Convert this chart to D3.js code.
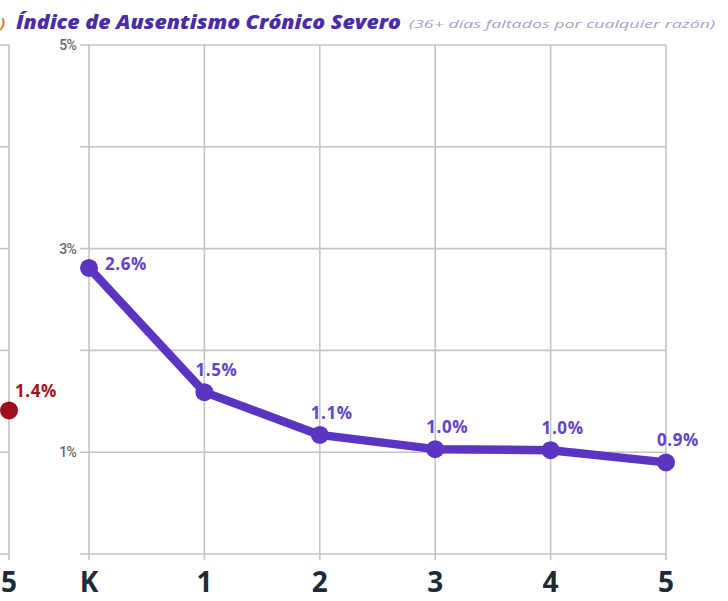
<!DOCTYPE html>
<html>
<head>
<meta charset="utf-8">
<script src="https://cdn.jsdelivr.net/npm/d3@7"></script>
<style>
  body { margin: 0; background: #fff; }
  svg { display: block; }
</style>
</head>
<body>
<div id="chart"></div>
<script>
// main panel: grades and plotted level (as drawn), plus the printed labels
var grades = ['K', '1', '2', '3', '4', '5'];
var values = [2.81, 1.59, 1.17, 1.03, 1.02, 0.9];
var valueLabels = ['2.6%', '1.5%', '1.1%', '1.0%', '1.0%', '0.9%'];

// partial panel cut off on the left
var leftGrades = ['5'];
var leftValues = [1.41];
var leftLabels = ['1.4%'];

var yTicks = [0, 1, 2, 3, 4, 5];
var yTickLabels = ['', '1%', '', '3%', '', '5%'];

var W = 728, H = 601;
var purple = '#5b35c2';

var svg = d3.select('#chart').append('svg')
  .attr('width', W)
  .attr('height', H);

var y = d3.scaleLinear().domain([0, 5]).range([554, 45]);
var x = d3.scalePoint().domain(grades).range([89, 666]);
var xLeft = d3.scalePoint().domain(leftGrades).range([9, 9]);

// title
svg.append('text')
  .attr('x', 0)
  .attr('y', 28)
  .attr('font-family', 'Open Sans, sans-serif')
  .attr('font-size', 15)
  .attr('font-style', 'italic')
  .attr('font-weight', 700)
  .attr('fill', '#e07a2a')
  .text(')');
svg.append('text')
  .attr('x', 16)
  .attr('y', 29)
  .attr('font-family', 'Open Sans, sans-serif')
  .attr('font-size', 19)
  .attr('font-weight', 800)
  .attr('font-style', 'italic')
  .attr('fill', '#4a2ca6')
  .attr('textLength', 385)
  .attr('lengthAdjust', 'spacingAndGlyphs')
  .text('Índice de Ausentismo Crónico Severo');
svg.append('text')
  .attr('x', 409)
  .attr('y', 28)
  .attr('font-family', 'Open Sans, sans-serif')
  .attr('font-size', 11)
  .attr('font-style', 'italic')
  .attr('fill', '#a79fc4')
  .attr('textLength', 306)
  .attr('lengthAdjust', 'spacingAndGlyphs')
  .text('(36+ días faltados por cualquier razón)');

// grid of the main panel
var grid = svg.append('g').attr('stroke', '#c4c4c4').attr('stroke-width', 1.6);
grid.selectAll('line.h')
  .data(yTicks)
  .enter().append('line')
    .attr('class', 'h')
    .attr('x1', 80)
    .attr('x2', x('5'))
    .attr('y1', d => y(d))
    .attr('y2', d => y(d));
grid.selectAll('line.v')
  .data(grades)
  .enter().append('line')
    .attr('class', 'v')
    .attr('x1', d => x(d))
    .attr('x2', d => x(d))
    .attr('y1', y(5))
    .attr('y2', y(0) + 6);

// grid of the cut-off panel
grid.selectAll('line.lh')
  .data(yTicks)
  .enter().append('line')
    .attr('class', 'lh')
    .attr('x1', 0)
    .attr('x2', xLeft('5'))
    .attr('y1', d => y(d))
    .attr('y2', d => y(d));
grid.selectAll('line.lv')
  .data(leftGrades)
  .enter().append('line')
    .attr('class', 'lv')
    .attr('x1', d => xLeft(d))
    .attr('x2', d => xLeft(d))
    .attr('y1', y(5))
    .attr('y2', y(0) + 6);

// y tick labels
svg.selectAll('text.ytick')
  .data(yTicks)
  .enter().append('text')
    .attr('class', 'ytick')
    .attr('x', 76)
    .attr('y', d => y(d) + 5)
    .attr('text-anchor', 'end')
    .attr('font-family', 'Roboto, sans-serif')
    .attr('font-size', 14)
    .attr('font-weight', 500)
    .attr('letter-spacing', -0.8)
    .attr('fill', '#6a6a6a')
    .text((d, i) => yTickLabels[i]);

// x labels
var xLabelStyle = function(sel) {
  sel.attr('y', 592)
    .attr('text-anchor', 'middle')
    .attr('font-family', 'Open Sans, sans-serif')
    .attr('font-size', 28)
    .attr('font-weight', 700)
    .attr('fill', '#1d2b38');
};
svg.selectAll('text.xlab')
  .data(grades)
  .enter().append('text')
    .attr('class', 'xlab')
    .attr('x', d => x(d))
    .call(xLabelStyle)
    .text(d => d);
svg.selectAll('text.xlabl')
  .data(leftGrades)
  .enter().append('text')
    .attr('class', 'xlabl')
    .attr('x', d => xLeft(d))
    .call(xLabelStyle)
    .text(d => d);

// main line
var line = d3.line()
  .x((d, i) => x(grades[i]))
  .y(d => y(d));

svg.append('path')
  .datum(values)
  .attr('d', line)
  .attr('fill', 'none')
  .attr('stroke', purple)
  .attr('stroke-width', 8.5)
  .attr('stroke-linejoin', 'round')
  .attr('stroke-linecap', 'round');

svg.selectAll('circle.pt')
  .data(values)
  .enter().append('circle')
    .attr('class', 'pt')
    .attr('cx', (d, i) => x(grades[i]))
    .attr('cy', d => y(d))
    .attr('r', 9)
    .attr('fill', purple);

svg.selectAll('text.val')
  .data(values)
  .enter().append('text')
    .attr('class', 'val')
    .attr('x', (d, i) => i == 0 ? x(grades[i]) + 16 : x(grades[i]) + 12)
    .attr('y', (d, i) => i == 0 ? y(d) + 2 : y(d) - 16)
    .attr('text-anchor', (d, i) => i == 0 ? 'start' : 'middle')
    .attr('font-family', 'Open Sans, sans-serif')
    .attr('font-size', 17)
    .attr('letter-spacing', 0.6)
    .attr('font-weight', 700)
    .attr('fill', '#6444c4')
    .text((d, i) => valueLabels[i]);

// cut-off panel point
svg.selectAll('circle.lpt')
  .data(leftValues)
  .enter().append('circle')
    .attr('class', 'lpt')
    .attr('cx', (d, i) => xLeft(leftGrades[i]))
    .attr('cy', d => y(d))
    .attr('r', 9)
    .attr('fill', '#9e0f1e');

svg.selectAll('text.lval')
  .data(leftValues)
  .enter().append('text')
    .attr('class', 'lval')
    .attr('x', (d, i) => xLeft(leftGrades[i]) + 6)
    .attr('y', d => y(d) - 13)
    .attr('font-family', 'Open Sans, sans-serif')
    .attr('font-size', 17)
    .attr('letter-spacing', 0.6)
    .attr('font-weight', 700)
    .attr('fill', '#a3121f')
    .text((d, i) => leftLabels[i]);
</script>
</body>
</html>
